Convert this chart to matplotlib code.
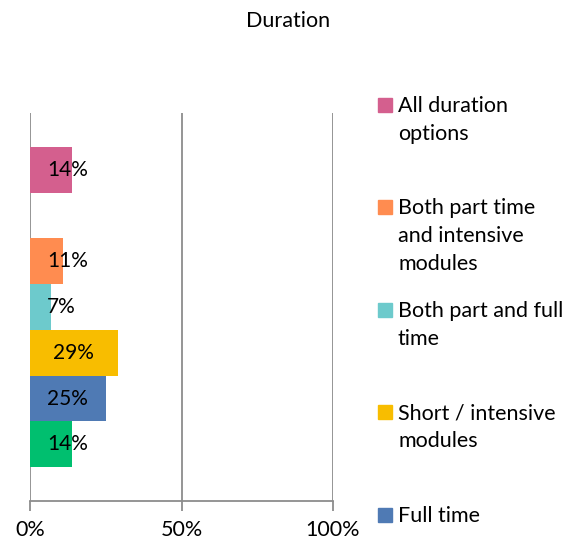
import matplotlib
matplotlib.use("Agg")
import matplotlib.pyplot as plt
from matplotlib.patches import Rectangle

plt.rcParams['font.family'] = ['Lato', 'DejaVu Sans']

# Series (bottom to top in the plot); None leaves an empty slot
series = ["Part time", "Full time", "Short / intensive modules",
          "Both part and full time", "Both part time and intensive modules",
          None, "All duration options"]
values = [14, 25, 29, 7, 11, None, 14]
colors = ["#00BF6F", "#4F7AB4", "#F8BD00", "#6DCACC", "#FF8C50", None, "#D45F8E"]

# Legend entries as shown (top to bottom)
legend_labels = ["All duration\noptions", "Both part time\nand intensive\nmodules",
                 "Both part and full\ntime", "Short / intensive\nmodules", "Full time"]
legend_colors = ["#D45F8E", "#FF8C50", "#6DCACC", "#F8BD00", "#4F7AB4"]

xticks = [0, 50, 100]
xticklabels = ["0%", "50%", "100%"]

FS = 15.5
W, H = 582, 543
fig = plt.figure(figsize=(W / 100, H / 100), dpi=100)
ax = fig.add_axes([30 / W, (H - 501) / H, 303 / W, 388 / H])

grid_c = "#8C8C8C"
for i, (v, c) in enumerate(zip(values, colors)):
    if v is None:
        continue
    ax.barh(i, v, height=1.0, color=c, zorder=2)
    half = 6.6
    if v / 2 - half < 5.6:
        ax.text(5.6, i, f"{v}%", ha="left", va="center", fontsize=15, zorder=3)
    else:
        ax.text(v / 2, i, f"{v}%", ha="center", va="center", fontsize=15, zorder=3)

ax.set_xlim(0, 100)
ax.set_ylim(-1.24, 7.24)
ax.set_xticks(xticks)
ax.set_xticklabels(xticklabels, fontsize=FS)
ax.set_yticks([])
for x in xticks:
    ax.axvline(x, color=grid_c, lw=1.3, zorder=1)
for s in ["top", "right", "left"]:
    ax.spines[s].set_visible(False)
ax.spines["bottom"].set_color(grid_c)
ax.spines["bottom"].set_linewidth(1.3)
ax.tick_params(axis="x", length=7, width=1.3, color=grid_c, pad=7, direction="out")

fig.text(288 / W, 1 - 21 / H, "Duration", ha="center", va="center", fontsize=FS)

# Legend drawn in figure pixels
ys = [105, 207, 310, 412, 515]
for y, lab, c in zip(ys, legend_labels, legend_colors):
    fig.patches.append(Rectangle((378 / W, 1 - (y + 7) / H), 14 / W, 14 / H,
                                 transform=fig.transFigure, color=c))
    fig.text(398 / W, 1 - (y - 9) / H, lab, ha="left", va="top",
             fontsize=FS, linespacing=1.5)

fig.savefig("out.png", dpi=100)
